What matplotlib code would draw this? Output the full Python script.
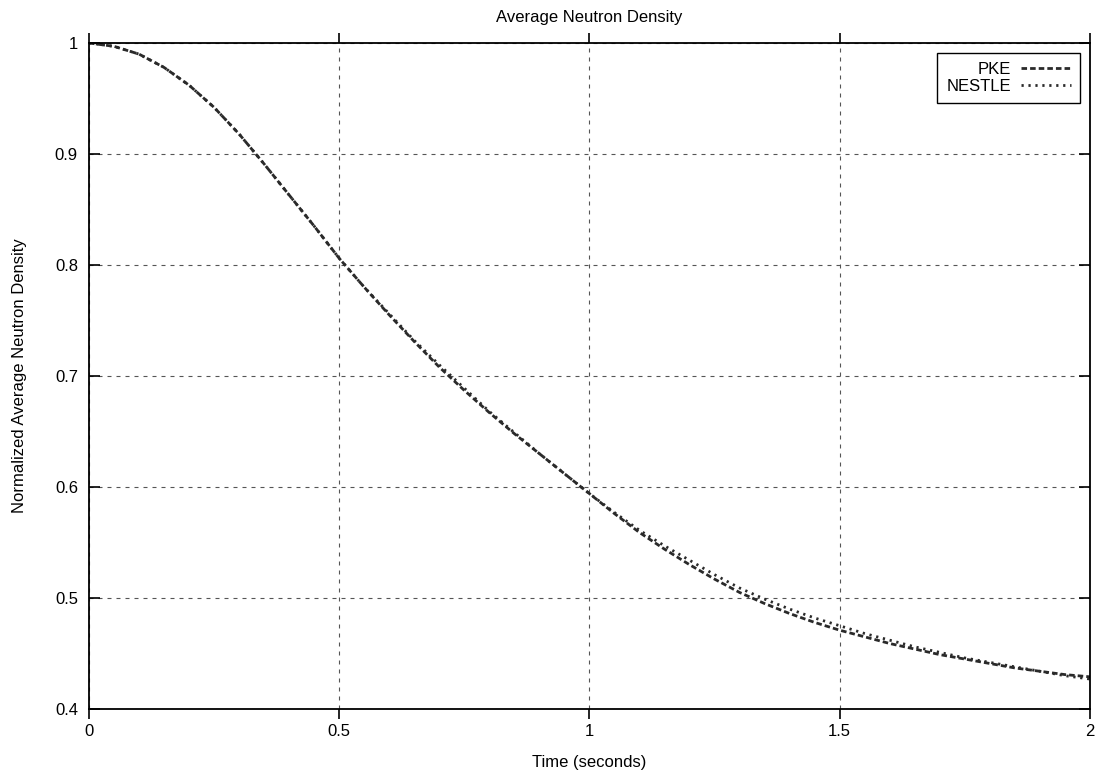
import numpy as np
import matplotlib
matplotlib.use("Agg")
import matplotlib.pyplot as plt

plt.rcParams['font.family'] = ['Liberation Sans', 'DejaVu Sans']

# data
time = [0.00, 0.05, 0.10, 0.15, 0.20, 0.25, 0.30, 0.35, 0.40, 0.45,
        0.50, 0.55, 0.60, 0.65, 0.70, 0.75, 0.80, 0.85, 0.90, 0.95,
        1.00, 1.05, 1.10, 1.15, 1.20, 1.25, 1.30, 1.35, 1.40, 1.45,
        1.50, 1.55, 1.60, 1.65, 1.70, 1.75, 1.80, 1.85, 1.90, 1.95, 2.00]
pke = [1.000, 0.997, 0.990, 0.978, 0.962, 0.942, 0.918, 0.891, 0.863, 0.835,
       0.806, 0.780, 0.755, 0.731, 0.708, 0.687, 0.667, 0.648, 0.630, 0.612,
       0.594, 0.576, 0.559, 0.544, 0.530, 0.517, 0.505, 0.495, 0.486, 0.478,
       0.471, 0.465, 0.459, 0.454, 0.449, 0.445, 0.441, 0.437, 0.434, 0.431, 0.429]
nestle = [1.000, 0.997, 0.990, 0.978, 0.962, 0.942, 0.918, 0.891, 0.863, 0.835,
          0.806, 0.780, 0.756, 0.732, 0.710, 0.689, 0.668, 0.649, 0.630, 0.612,
          0.594, 0.577, 0.561, 0.547, 0.534, 0.521, 0.509, 0.499, 0.490, 0.482,
          0.475, 0.468, 0.462, 0.456, 0.451, 0.446, 0.442, 0.438, 0.434, 0.430, 0.427]

xticks = [0, 0.5, 1, 1.5, 2]
xticklabels = ['0', '0.5', '1', '1.5', '2']
yticks = [0.4, 0.5, 0.6, 0.7, 0.8, 0.9, 1.0]
yticklabels = ['0.4', '0.5', '0.6', '0.7', '0.8', '0.9', '1']

fig = plt.figure(figsize=(10.96, 7.71), dpi=100)
ax = fig.add_axes([0.0812, 0.0804, 0.9133, 0.8638])

ax.plot(time, pke, color='#2a2a2a', lw=2.0, linestyle=(0, (2.0, 1.1)), label='PKE')
ax.plot(time, nestle, color='#2a2a2a', lw=2.0, linestyle=(0, (0.8, 1.7)), label='NESTLE')

ax.set_xlim(0, 2)
ax.set_ylim(0.4, 1.0)
ax.set_xticks(xticks)
ax.set_xticklabels(xticklabels)
ax.set_yticks(yticks)
ax.set_yticklabels(yticklabels)

ax.grid(True, color='#555555', lw=0.8, linestyle=(0, (3.6, 4.5)))
ax.tick_params(axis='x', direction='out', length=7, width=1.2, top=True,
               labelsize=12, pad=4)
ax.tick_params(axis='y', direction='in', length=8, width=1.2, right=True,
               labelsize=12, pad=8)
for s in ax.spines.values():
    s.set_linewidth(1.3)

ax.set_title('Average Neutron Density', fontsize=12, pad=15)
ax.set_xlabel('Time (seconds)', fontsize=12, labelpad=11)
ax.set_ylabel('Normalized Average Neutron Density', fontsize=12, labelpad=20)

leg = ax.legend(loc='upper right', markerfirst=False, fontsize=12,
                handlelength=3.0, fancybox=False, framealpha=1,
                edgecolor='black', borderaxespad=0.6, labelspacing=0.1,
                handletextpad=0.6, borderpad=0.55)
leg.get_frame().set_linewidth(1.0)

fig.savefig('out.png', dpi=100)
